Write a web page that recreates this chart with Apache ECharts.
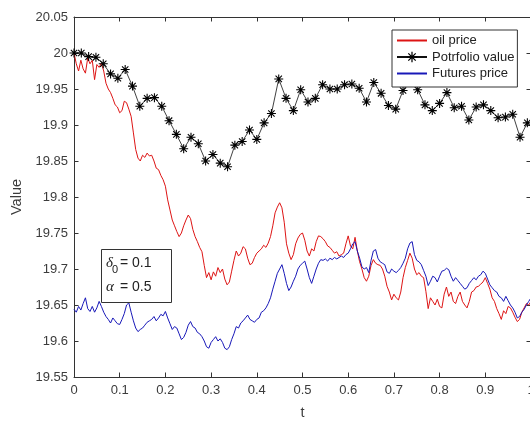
<!DOCTYPE html>
<html>
<head>
<meta charset="utf-8">
<script src="https://cdn.jsdelivr.net/npm/echarts@6/dist/echarts.min.js"></script>
<style>
  html, body { margin: 0; padding: 0; background: #ffffff; }
  #chart { width: 530px; height: 421px; }
</style>
</head>
<body>
<div id="chart"></div>
<script>
// Simulated paths sampled every tStep on t in [0, 1]
const tStep = 0.005;

const oilPrice = [
  20.000, 19.985, 19.975, 19.990, 19.978, 19.972, 19.993, 19.985, 19.990, 19.963,
  19.984, 19.980, 19.986, 19.975, 19.958, 19.950, 19.945, 19.937, 19.928, 19.925,
  19.917, 19.920, 19.933, 19.931, 19.922, 19.912, 19.889, 19.866, 19.854, 19.850,
  19.858, 19.855, 19.861, 19.857, 19.858, 19.850, 19.840, 19.838, 19.830, 19.824,
  19.815, 19.796, 19.782, 19.768, 19.760, 19.752, 19.745, 19.750, 19.760, 19.768,
  19.775, 19.770, 19.755, 19.745, 19.738, 19.730, 19.724, 19.705, 19.688, 19.695,
  19.685, 19.696, 19.690, 19.702, 19.695, 19.700, 19.686, 19.678, 19.682, 19.697,
  19.712, 19.725, 19.718, 19.722, 19.731, 19.728, 19.715, 19.706, 19.708, 19.716,
  19.722, 19.725, 19.728, 19.733, 19.730, 19.736, 19.745, 19.760, 19.778, 19.786,
  19.792, 19.785, 19.765, 19.735, 19.722, 19.713, 19.720, 19.735, 19.743, 19.748,
  19.750, 19.740, 19.725, 19.718, 19.728, 19.725, 19.738, 19.746, 19.745, 19.742,
  19.738, 19.732, 19.730, 19.726, 19.722, 19.724, 19.718, 19.720, 19.722, 19.735,
  19.746, 19.732, 19.728, 19.744, 19.725, 19.710, 19.700, 19.688, 19.683, 19.690,
  19.705, 19.713, 19.708, 19.706, 19.705, 19.700, 19.690, 19.676, 19.668, 19.657,
  19.665, 19.660, 19.657, 19.668, 19.688, 19.702, 19.712, 19.722, 19.715, 19.700,
  19.692, 19.695, 19.690, 19.688, 19.669, 19.645, 19.660, 19.655, 19.650, 19.658,
  19.648, 19.646, 19.665, 19.675, 19.662, 19.668, 19.655, 19.652, 19.662, 19.668,
  19.655, 19.650, 19.646, 19.655, 19.668, 19.670, 19.675, 19.676, 19.679, 19.682,
  19.688, 19.680, 19.672, 19.660, 19.655, 19.645, 19.638, 19.630, 19.642, 19.638,
  19.648, 19.646, 19.640, 19.633, 19.627, 19.630, 19.640, 19.646, 19.652, 19.650,
  19.655
];

const futuresPrice = [
  19.644, 19.640, 19.648, 19.643, 19.652, 19.660, 19.645, 19.641, 19.648, 19.640,
  19.646, 19.655, 19.648, 19.640, 19.634, 19.630, 19.625, 19.632, 19.628, 19.624,
  19.623, 19.630, 19.638, 19.650, 19.653, 19.640, 19.628, 19.618, 19.613, 19.616,
  19.618, 19.622, 19.626, 19.628, 19.630, 19.634, 19.628, 19.632, 19.637, 19.635,
  19.641, 19.632, 19.624, 19.616, 19.620, 19.618, 19.610, 19.602, 19.605, 19.612,
  19.622, 19.627, 19.620, 19.618, 19.612, 19.610, 19.606, 19.600, 19.592, 19.590,
  19.598, 19.602, 19.606, 19.600, 19.603, 19.598, 19.590, 19.588, 19.592, 19.602,
  19.610, 19.620, 19.618, 19.625, 19.628, 19.632, 19.636, 19.630, 19.628, 19.626,
  19.630, 19.632, 19.640, 19.642, 19.646, 19.652, 19.660, 19.672, 19.683, 19.694,
  19.700, 19.706, 19.694, 19.680, 19.670, 19.675, 19.683, 19.690, 19.700, 19.705,
  19.708, 19.711, 19.700, 19.688, 19.680, 19.690, 19.700, 19.708, 19.713, 19.712,
  19.714, 19.711, 19.715, 19.713, 19.716, 19.714, 19.716, 19.718, 19.716, 19.720,
  19.722, 19.728, 19.735, 19.738, 19.725, 19.715, 19.703, 19.700, 19.702, 19.695,
  19.712, 19.725, 19.727, 19.715, 19.710, 19.708, 19.706, 19.696, 19.694, 19.700,
  19.697, 19.695, 19.698, 19.702, 19.708, 19.715, 19.728, 19.736, 19.738, 19.720,
  19.712, 19.710, 19.706, 19.698, 19.690, 19.677, 19.683, 19.690, 19.688, 19.682,
  19.690, 19.697, 19.698, 19.701, 19.699, 19.690, 19.683, 19.688, 19.684, 19.680,
  19.676, 19.672, 19.674, 19.680, 19.684, 19.688, 19.685, 19.690, 19.692, 19.697,
  19.694, 19.686, 19.678, 19.674, 19.670, 19.668, 19.662, 19.660, 19.655, 19.662,
  19.656, 19.650, 19.646, 19.640, 19.632, 19.634, 19.640, 19.644, 19.650, 19.655,
  19.660
];

// Portfolio rebalanced every hedgeStep
const hedgeStep = 0.016;
const portfolioValue = [
  20.000, 20.000, 19.995, 19.994, 19.985, 19.971, 19.965, 19.977, 19.954, 19.926,
  19.937, 19.938, 19.926, 19.906, 19.887, 19.867, 19.883, 19.874, 19.850, 19.859,
  19.847, 19.842, 19.872, 19.877, 19.893, 19.880, 19.903, 19.916, 19.964, 19.937,
  19.920, 19.949, 19.932, 19.937, 19.956, 19.950, 19.950, 19.956, 19.957, 19.951,
  19.932, 19.959, 19.944, 19.927, 19.922, 19.948, 19.963, 19.949, 19.928, 19.920,
  19.930, 19.945, 19.924, 19.926, 19.907, 19.925, 19.928, 19.920, 19.910, 19.911,
  19.915, 19.883, 19.903
];

const seriesNames = ['oil price', 'Potrfolio value', 'Futures price'];
const tTickLabels = ['0', '0.1', '0.2', '0.3', '0.4', '0.5', '0.6', '0.7', '0.8', '0.9', '1'];
const valueTickLabels = ['19.55', '19.6', '19.65', '19.7', '19.75', '19.8', '19.85', '19.9', '19.95', '20', '20.05'];

const tMin = 0, tMax = 1, tInterval = 0.1;
const vMin = 19.55, vMax = 20.05, vInterval = 0.05;

const oilColor = '#dd1414';
const portfolioColor = '#111111';
const futuresColor = '#1818b8';
const axisColor = '#333333';
const textColor = '#3c3c3c';
const sansFont = '"Liberation Sans", Arial, Helvetica, sans-serif';
const serifFont = '"Liberation Serif", "DejaVu Serif", serif';

// MATLAB-style asterisk marker: plus and cross overlaid
const asterisk = 'path://M8.8 0L11.2 0L11.2 20L8.8 20Z M0 8.8L20 8.8L20 11.2L0 11.2Z ' +
  'M3.78 2.08L17.92 16.22L16.22 17.92L2.08 3.78Z M16.22 2.08L17.92 3.78L3.78 17.92L2.08 16.22Z';

const toPairs = (values, step) => values.map((v, i) => [i * step, v]);

const chart = echarts.init(document.getElementById('chart'), null, { renderer: 'canvas' });

const tickFormatter = (labels, min, step) => (v) => {
  const idx = Math.round((v - min) / step);
  return labels[idx] !== undefined ? labels[idx] : '';
};

const axisBase = {
  type: 'value',
  axisLine: { show: true, onZero: false, lineStyle: { color: axisColor, width: 1 } },
  axisTick: { show: true, inside: true, length: 4.5, lineStyle: { color: axisColor, width: 1 } },
  splitLine: { show: false }
};

// Plain-line legend entries: keep the line, hide the centre symbol
const lineOnlyEntry = (name) => ({ name: name, itemStyle: { opacity: 0 } });

chart.setOption({
  animation: false,
  backgroundColor: '#ffffff',
  textStyle: { fontFamily: sansFont },
  grid: { left: 74, top: 17, right: -1, bottom: 44, outerBoundsMode: 'none', containLabel: false },
  legend: {
    data: [
      lineOnlyEntry(seriesNames[0]),
      { name: seriesNames[1] },
      lineOnlyEntry(seriesNames[2])
    ],
    orient: 'vertical',
    left: 392,
    top: 30,
    itemWidth: 30,
    itemHeight: 13,
    itemGap: 3.5,
    padding: [4, 3, 7, 4],
    backgroundColor: '#ffffff',
    borderColor: '#333333',
    borderWidth: 1,
    borderRadius: 0,
    selectedMode: false,
    textStyle: { fontSize: 13, color: '#222222', fontFamily: sansFont }
  },
  xAxis: [
    Object.assign({}, axisBase, {
      position: 'bottom',
      min: tMin, max: tMax, interval: tInterval,
      name: 't',
      nameLocation: 'middle',
      nameGap: 28,
      nameTextStyle: { fontSize: 14.5, color: textColor, fontFamily: sansFont },
      axisLabel: {
        show: true, margin: 7, fontSize: 13, color: textColor, fontFamily: sansFont,
        formatter: tickFormatter(tTickLabels, tMin, tInterval)
      }
    }),
    Object.assign({}, axisBase, {
      position: 'top',
      min: tMin, max: tMax, interval: tInterval,
      axisLabel: { show: false }
    })
  ],
  yAxis: [
    Object.assign({}, axisBase, {
      position: 'left',
      min: vMin, max: vMax, interval: vInterval,
      name: 'Value',
      nameLocation: 'middle',
      nameGap: 48,
      nameTextStyle: { fontSize: 14.5, color: textColor, fontFamily: sansFont },
      axisLabel: {
        show: true, margin: 6, fontSize: 13, color: textColor, fontFamily: sansFont,
        formatter: tickFormatter(valueTickLabels, vMin, vInterval)
      }
    }),
    Object.assign({}, axisBase, {
      position: 'right',
      min: vMin, max: vMax, interval: vInterval,
      axisLabel: { show: false }
    })
  ],
  series: [
    {
      name: seriesNames[0],
      type: 'line',
      xAxisIndex: 0, yAxisIndex: 0,
      data: toPairs(oilPrice, tStep),
      showSymbol: false,
      symbol: 'none',
      silent: true,
      lineStyle: { color: oilColor, width: 1 },
      itemStyle: { color: oilColor },
      z: 2
    },
    {
      name: seriesNames[1],
      type: 'line',
      xAxisIndex: 0, yAxisIndex: 0,
      data: toPairs(portfolioValue, hedgeStep),
      symbol: asterisk,
      symbolSize: 9,
      showSymbol: true,
      silent: true,
      lineStyle: { color: portfolioColor, width: 0.8 },
      itemStyle: { color: '#000000' },
      z: 3
    },
    {
      name: seriesNames[2],
      type: 'line',
      xAxisIndex: 0, yAxisIndex: 0,
      data: toPairs(futuresPrice, tStep),
      showSymbol: false,
      symbol: 'none',
      silent: true,
      lineStyle: { color: futuresColor, width: 1 },
      itemStyle: { color: futuresColor },
      z: 2
    }
  ],
  graphic: [
    {
      type: 'rect',
      z: 10,
      shape: { x: 101.5, y: 249.5, width: 70, height: 53 },
      style: { fill: 'none', stroke: '#333333', lineWidth: 1 }
    },
    {
      type: 'text', z: 11, x: 106, y: 263,
      style: { text: 'δ', font: 'italic 15px ' + serifFont, fill: '#222222', verticalAlign: 'middle' }
    },
    {
      type: 'text', z: 11, x: 112, y: 270,
      style: { text: '0', font: '11px ' + sansFont, fill: '#222222', verticalAlign: 'middle' }
    },
    {
      type: 'text', z: 11, x: 120, y: 263,
      style: { text: '= 0.1', font: '14px ' + sansFont, fill: '#222222', verticalAlign: 'middle' }
    },
    {
      type: 'text', z: 11, x: 106, y: 287,
      style: { text: 'α', font: 'italic 15px ' + serifFont, fill: '#222222', verticalAlign: 'middle' }
    },
    {
      type: 'text', z: 11, x: 120, y: 287,
      style: { text: '= 0.5', font: '14px ' + sansFont, fill: '#222222', verticalAlign: 'middle' }
    }
  ]
});
</script>
</body>
</html>
